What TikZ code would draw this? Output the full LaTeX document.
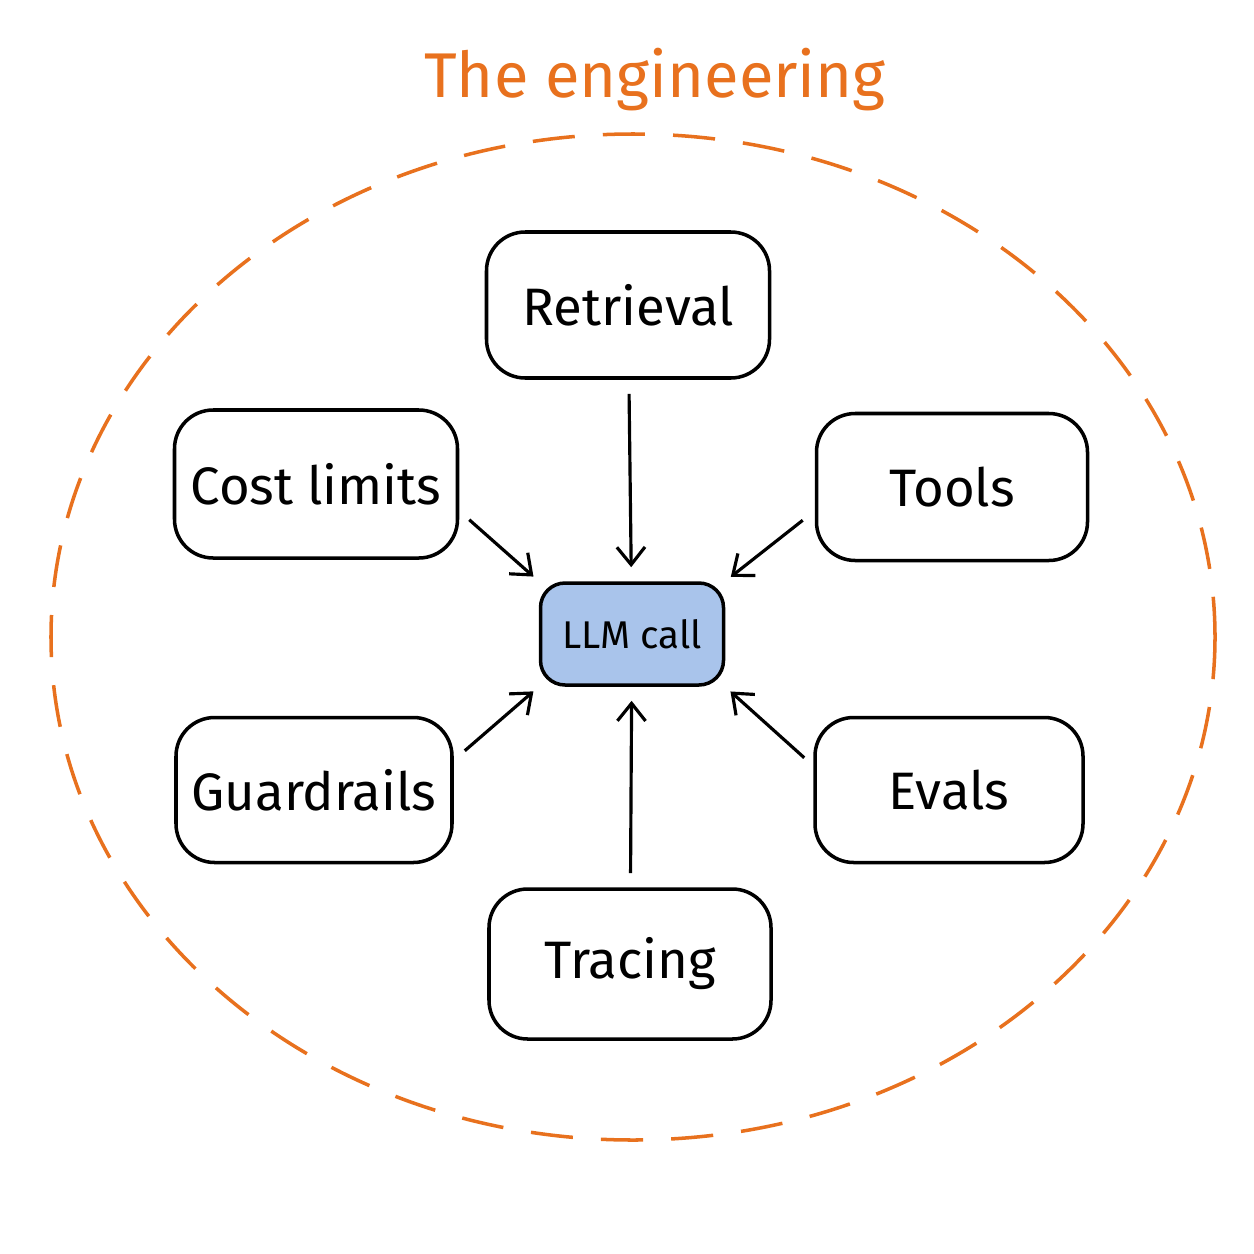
\documentclass[tikz,border=0pt]{standalone}
\usepackage{fontspec}
\setmainfont{Fira Sans}
\usetikzlibrary{arrows.meta}
\definecolor{engorange}{HTML}{E8711E}
\definecolor{callblue}{HTML}{A9C4EB}
\tikzset{
	part/.style={draw, line width=2pt, rounded corners=22pt, fill=white, font=\fontsize{30}{36}\selectfont},
	link/.style={-{Straight Barb[length=10pt, width=16pt]}, line width=1.8pt, shorten <=8pt, shorten >=8pt}
}
\begin{document}
\begin{tikzpicture}[x=0.02cm, y=-0.02cm]
				\useasboundingbox (0,0) rectangle (1254,1254);
				\node[text=engorange, font=\fontsize{36}{42}\selectfont] (title) at (655,80) {The engineering};
				\draw[engorange, line width=2pt, dash pattern=on 24pt off 16pt] (633,637) ellipse [x radius=582, y radius=503];
				\node[part, minimum width=283*0.02cm, minimum height=146*0.02cm] (ret) at (628,305) {Retrieval};
				\node[part, minimum width=283*0.02cm, minimum height=148*0.02cm] (cost) at (316,484) {Cost limits};
				\node[part, minimum width=271*0.02cm, minimum height=147*0.02cm] (tools) at (952,487) {Tools};
				\node[part, minimum width=276*0.02cm, minimum height=145*0.02cm] (guard) at (314,790) {Guardrails};
				\node[part, minimum width=268*0.02cm, minimum height=145*0.02cm] (evals) at (949,790) {Evals};
				\node[part, minimum width=282*0.02cm, minimum height=150*0.02cm] (trace) at (630,964) {Tracing};
				\node[part, fill=callblue, rounded corners=14pt, minimum width=183*0.02cm, minimum height=102*0.02cm, font=\fontsize{22}{26}\selectfont] (llm) at (632,634) {LLM call};
				\draw[link] (ret) -- (llm);
				\draw[link] (trace) -- (llm);
				\draw[link, shorten <=0pt, shorten >=4pt] (cost.south east) ++(10,-40) -- (llm.north west);
				\draw[link, shorten <=0pt, shorten >=4pt] (tools.south west) ++(-12,-42) -- (llm.north east);
				\draw[link, shorten <=0pt, shorten >=4pt] (guard.north east) ++(11,35) -- (llm.south west);
				\draw[link, shorten <=0pt, shorten >=4pt] (evals.north west) ++(-9,42) -- (llm.south east);
			\end{tikzpicture}
\end{document}
